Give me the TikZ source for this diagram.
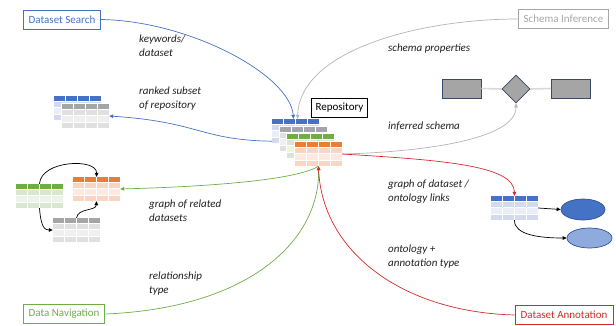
\documentclass[tikz,border=0pt]{standalone}
\usepackage{fontspec}
\setmainfont{Carlito}
\usetikzlibrary{shapes.geometric,arrows.meta,calc}

\definecolor{cblue}{HTML}{4472C4}
\definecolor{cbluebandA}{HTML}{D3DAEE}
\definecolor{cbluebandB}{HTML}{EAEEF7}
\definecolor{cgray}{HTML}{A5A5A5}
\definecolor{cgraybandA}{HTML}{E0E0E0}
\definecolor{cgraybandB}{HTML}{EFEFEF}
\definecolor{cgreen}{HTML}{70AD47}
\definecolor{cgreenbandA}{HTML}{D8E6D2}
\definecolor{cgreenbandB}{HTML}{ECF3E9}
\definecolor{corange}{HTML}{ED7D31}
\definecolor{corangebandA}{HTML}{F9D5C2}
\definecolor{corangebandB}{HTML}{FCEAE0}
\definecolor{cred}{HTML}{D42A2A}
\definecolor{clinegray}{HTML}{B4B4B4}
\definecolor{ertext}{HTML}{A6A6A6}
\definecolor{erborder}{HTML}{3B4A66}
\definecolor{erlinkcol}{HTML}{D9D9D9}
\definecolor{ellipsedark}{HTML}{4472C4}
\definecolor{ellipsedarkborder}{HTML}{2F5597}
\definecolor{ellipselight}{HTML}{8FAADC}

% a small data table: name, left x, top y, header colour, band colours
\newcommand\datatable[6]{%
  \fill[white] (#2-0.6,#3-0.6) rectangle ++(48.2,25.4);
  \foreach \c in {0,1,2,3}{%
    \fill[#4] ({#2+\c*12},#3) rectangle ++(11,4.5);
    \fill[#5] ({#2+\c*12},#3+5.5) rectangle ++(11,5.5);
    \fill[#6] ({#2+\c*12},#3+12) rectangle ++(11,5.5);
    \fill[#5] ({#2+\c*12},#3+18.5) rectangle ++(11,5.5);
  }%
  \node[tblframe] (#1) at (#2+23.5,#3+12) {};
}

\begin{document}
\begin{tikzpicture}[x=1pt,y=-1pt,
  every node/.style={font=\fontsize{11}{13.5}\selectfont},
  tblframe/.style={minimum width=47,minimum height=24,inner sep=0,draw=none},
  taskbox/.style={draw=#1,text=#1,line width=0.8,inner xsep=5.5,inner ysep=0,minimum height=19},
  lbl/.style={anchor=north west,align=left,inner sep=0,text=black!88,
    font=\itshape\fontsize{11}{13.5}\selectfont},
  conn/.style={line width=0.7,-{Triangle[length=4,width=3.6]}},
  blk/.style={black,line width=0.7,-{Triangle[length=4,width=3.6]}},
  erbox/.style={draw=erborder,fill=cgray,line width=0.8,minimum width=39,minimum height=19,inner sep=0},
  erlink/.style={erlinkcol,line width=1.6}
]
\useasboundingbox (0,0) rectangle (616,325);

% task boxes
\node[taskbox=cblue] (ds) at (62,19.5) {Dataset Search};
\node[taskbox=ertext] (si) at (563.5,19) {Schema Inference};
\node[taskbox=cgreen] (dn) at (64,314) {Data Navigation};
\node[taskbox=cred] (da) at (564,315) {Dataset Annotation};

% repository stack
\datatable{r1}{272}{119}{cblue}{cbluebandA}{cbluebandB}
\datatable{r2}{280}{127}{cgray}{cgraybandA}{cgraybandB}
\datatable{r3}{287}{134}{cgreen}{cgreenbandA}{cgreenbandB}
\datatable{r4}{295}{142}{corange}{corangebandA}{corangebandB}
\node[draw,line width=0.8,inner xsep=4,inner ysep=0,minimum height=19] (repo) at (339.5,107.5) {Repository};

% ranked search result
\datatable{m1}{54}{96}{cblue}{cbluebandA}{cbluebandB}
\datatable{m2}{62}{104}{cgray}{cgraybandA}{cgraybandB}

% related datasets
\datatable{g1}{16}{184}{cgreen}{cgreenbandA}{cgreenbandB}
\datatable{g2}{73}{177}{corange}{corangebandA}{corangebandB}
\datatable{g3}{53}{218}{cgray}{cgraybandA}{cgraybandB}

% annotated dataset and ontology terms
\datatable{a1}{491}{196}{cblue}{cbluebandA}{cbluebandB}
\node[ellipse,draw=ellipsedarkborder,fill=ellipsedark,line width=0.7,minimum width=44,minimum height=21,inner sep=0] (e1) at (583,209.5) {};
\node[ellipse,draw=ellipsedarkborder,fill=ellipselight,line width=0.7,minimum width=45,minimum height=20,inner sep=0] (e2) at (589.5,238) {};

% inferred schema (ER sketch)
\node[erbox] (er1) at (461.5,88.5) {};
\node[erbox] (er2) at (571,88.5) {};
\node[diamond,aspect=1,draw=erborder,fill=cgray,line width=0.8,minimum width=28,minimum height=28,inner sep=0] (dia) at (516,89) {};
\draw[erlink] (er1.east) -- (dia.west);
\draw[erlink] (dia.east) -- (er2.west);

% labels
\node[lbl] (t1) at (139,35) {keywords/\\dataset};
\node[lbl] (t2) at (139,87) {ranked subset\\of repository};
\node[lbl] (t3) at (388,44) {schema properties};
\node[lbl] (t4) at (388,122) {inferred schema};
\node[lbl] (t5) at (149,200) {graph of related\\datasets};
\node[lbl] (t6) at (149,272) {relationship\\type};
\node[lbl] (t7) at (388,180) {graph of dataset /\\ontology links};
\node[lbl] (t8) at (388,245) {ontology +\\annotation type};

% dataset search
\draw[cblue,conn] (ds.east) .. controls (190,21) and (290,75) .. ([xshift=-2pt]r1.north);
\draw[cblue,conn] ([yshift=2pt]r1.south west) .. controls (200,140) and (200,122) .. (m2.east);

% schema inference
\draw[clinegray,conn] (si.west) .. controls (420,19) and (300,50) .. ([xshift=2pt]r1.north);
\draw[clinegray,conn] (r4.east) .. controls (420,152) and (516,140) .. (dia.south);

% data navigation
\draw[cgreen,conn] (dn.east) .. controls (250,308) and (320,240) .. (r4.south);
\draw[cgreen,conn] (r4.south) .. controls (300,178) and (230,186) .. (g2.east);
\draw[blk] (g1.north) .. controls (41,160) and (97,158) .. (g2.north);
\draw[blk] (g1.south) .. controls (41,228) and (45,230) .. (g3.west);
\draw[blk] (g3.north) .. controls (78,208) and (96,211) .. (g2.south);

% dataset annotation
\draw[cred,conn] (r4.east) .. controls (440,160) and (514,165) .. (a1.north);
\draw[cred,conn] (da.west) .. controls (400,312) and (322,250) .. (r4.south);
\draw[blk] (a1.east) -- (e1.west);
\draw[blk] (a1.south) .. controls (514,235) and (540,238) .. (e2.west);
\end{tikzpicture}
\end{document}
